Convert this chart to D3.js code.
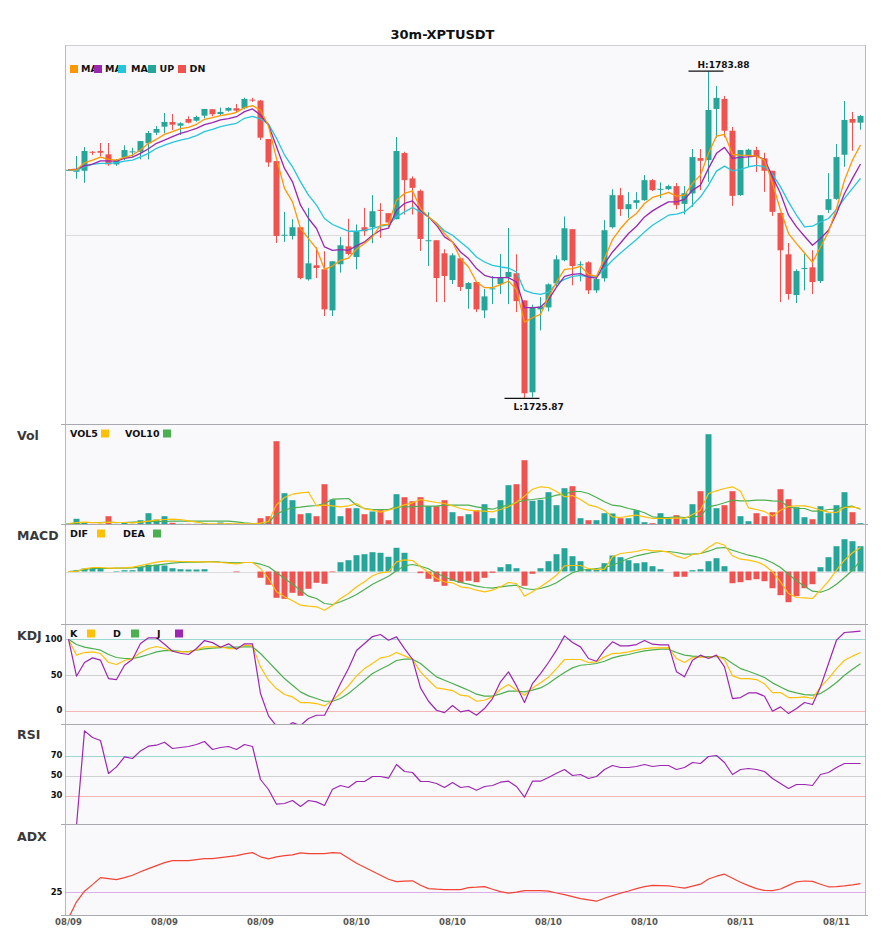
<!DOCTYPE html>
<html><head><meta charset="utf-8">
<script src="https://cdn.jsdelivr.net/npm/d3@7/dist/d3.min.js"></script>
<style>body{margin:0;background:#fff}svg{display:block}text{font-family:"DejaVu Sans",sans-serif}</style>
</head><body><svg id="c" width="885" height="950"></svg>
<script>
// ---------------- data ----------------
const chartTitle = "30m-XPTUSDT";
const open = [1766.30,1766.04,1766.22,1769.59,1769.72,1769.13,1767.35,1768.53,1769.49,1769.59,
1771.09,1772.97,1774.04,1774.87,1774.21,1775.40,1775.10,1775.99,1777.13,1776.29,
1776.88,1777.31,1777.31,1778.83,1778.66,1771.85,1767.94,1754.79,1754.66,1756.21,
1746.97,1749.46,1748.75,1741.46,1749.64,1752.83,1750.93,1756.21,1756.21,1759.29,
1758.70,1757.63,1769.36,1764.87,1762.66,1753.78,1753.90,1751.59,1746.85,1750.70,
1745.25,1746.49,1741.46,1745.25,1746.13,1747.38,1748.04,1743.24,1726.94,1741.64,
1741.99,1746.26,1750.35,1755.86,1749.51,1749.99,1745.01,1747.15,1756.21,1761.90,
1759.41,1760.53,1761.01,1764.56,1762.91,1762.96,1763.50,1760.35,1762.20,1768.47,
1768.12,1777.18,1778.96,1773.32,1761.90,1768.88,1769.89,1768.42,1766.22,1758.75,
1751.41,1744.18,1748.87,1749.10,1746.67,1759.29,1761.24,1769.06,1775.40,1774.75];
const high = [1766.52,1768.83,1770.43,1769.72,1771.14,1771.14,1768.30,1770.73,1770.30,1771.49,
1773.27,1774.16,1776.47,1776.29,1774.82,1775.88,1775.99,1777.18,1777.13,1777.41,
1777.48,1778.07,1779.19,1779.14,1778.78,1771.85,1767.94,1758.93,1757.63,1756.21,
1759.64,1752.66,1751.95,1750.17,1754.49,1757.69,1756.69,1759.64,1761.90,1760.48,
1758.70,1772.20,1769.59,1765.22,1762.91,1758.88,1753.90,1752.30,1751.59,1750.70,
1746.49,1746.49,1745.25,1747.56,1751.47,1756.09,1751.41,1743.24,1742.47,1743.82,
1746.26,1751.23,1758.11,1755.86,1750.17,1750.17,1747.38,1757.45,1762.96,1763.19,
1762.43,1762.43,1765.45,1764.74,1764.15,1763.73,1764.03,1763.50,1770.07,1770.07,
1783.88,1781.27,1779.49,1773.98,1769.89,1770.13,1770.48,1769.41,1766.22,1758.75,
1753.42,1748.75,1751.54,1752.12,1758.34,1765.81,1770.96,1778.60,1776.65,1776.11];
const low = [1766.22,1764.79,1764.08,1769.01,1768.78,1767.10,1767.10,1768.12,1768.70,1768.24,
1768.24,1772.56,1772.86,1773.45,1772.56,1774.64,1774.92,1775.53,1775.88,1776.06,
1776.70,1776.59,1777.13,1778.42,1771.67,1766.93,1753.42,1753.60,1754.02,1746.97,
1746.74,1747.20,1740.45,1740.45,1748.16,1751.23,1748.75,1754.66,1753.37,1754.31,
1756.26,1757.63,1758.47,1758.47,1752.00,1749.33,1742.94,1742.94,1746.13,1744.89,
1741.76,1741.16,1740.09,1742.58,1744.36,1742.58,1741.16,1725.87,1726.05,1737.91,
1741.28,1745.55,1750.17,1745.90,1746.61,1744.36,1744.53,1746.56,1755.98,1758.22,
1757.86,1759.46,1760.88,1762.61,1761.36,1762.79,1759.41,1758.47,1759.82,1762.79,
1764.26,1772.03,1772.15,1760.00,1761.77,1766.93,1765.98,1762.48,1758.22,1742.94,
1743.36,1742.76,1745.01,1744.36,1746.31,1758.75,1761.06,1766.93,1769.77,1773.50];
const close = [1766.39,1766.39,1769.72,1769.49,1769.41,1767.35,1768.12,1769.89,1769.66,1771.49,
1772.92,1773.63,1774.87,1774.39,1774.64,1774.75,1775.76,1777.18,1776.24,1776.65,
1777.36,1776.88,1778.96,1778.73,1772.08,1767.71,1754.66,1754.88,1756.21,1747.20,
1749.81,1748.98,1741.64,1750.17,1753.01,1751.47,1755.50,1755.50,1759.05,1759.11,
1757.05,1769.72,1764.56,1763.19,1754.13,1753.90,1747.20,1747.56,1751.23,1745.60,
1746.31,1741.64,1743.95,1745.37,1747.20,1748.27,1743.11,1726.76,1741.94,1742.17,
1746.08,1750.52,1756.03,1749.33,1749.64,1745.01,1747.02,1755.68,1761.90,1759.41,
1760.30,1761.01,1764.56,1762.79,1763.02,1763.50,1760.12,1762.25,1768.65,1767.99,
1777.00,1779.14,1773.32,1761.77,1769.89,1769.95,1768.70,1766.22,1758.93,1752.12,
1744.36,1748.44,1748.98,1746.49,1758.34,1761.19,1768.65,1775.23,1774.75,1775.94];
const ma5 = [1766.39,1766.39,1767.64,1768.12,1768.65,1768.24,1768.12,1768.60,1769.01,1769.89,
1771.09,1771.80,1772.68,1773.15,1773.68,1773.93,1774.46,1775.35,1775.63,1775.99,
1776.24,1776.59,1777.41,1777.77,1777.00,1774.16,1768.42,1763.09,1760.71,1755.98,
1754.20,1752.43,1748.75,1749.33,1750.35,1750.75,1752.30,1753.31,1754.49,1756.57,
1756.74,1761.01,1762.20,1762.66,1759.53,1758.04,1756.87,1755.09,1753.60,1750.65,
1749.16,1746.49,1745.49,1745.49,1746.03,1746.67,1745.14,1739.38,1740.16,1740.75,
1743.82,1746.49,1748.75,1748.87,1749.28,1747.86,1747.50,1750.65,1754.02,1755.98,
1757.58,1758.65,1760.42,1761.49,1761.90,1762.38,1761.72,1761.90,1763.98,1765.45,
1769.31,1772.38,1772.68,1769.13,1769.01,1768.95,1768.83,1768.12,1763.98,1759.23,
1755.09,1753.31,1751.64,1749.99,1752.71,1755.38,1759.53,1764.56,1768.12,1770.78];
const ma10 = [1766.39,1766.52,1767.10,1767.41,1767.99,1767.99,1767.94,1768.42,1768.65,1769.31,
1770.13,1771.09,1771.67,1772.26,1772.86,1773.27,1773.75,1774.39,1774.75,1775.23,
1775.46,1775.81,1776.70,1777.18,1776.11,1774.34,1770.48,1766.64,1764.26,1760.12,
1757.76,1755.98,1752.71,1752.12,1752.25,1752.12,1752.89,1753.60,1754.79,1755.68,
1756.03,1759.23,1760.42,1760.88,1759.23,1758.04,1756.57,1754.49,1753.60,1751.82,
1750.65,1748.87,1747.68,1747.27,1747.27,1747.27,1746.49,1741.94,1741.94,1742.05,
1743.36,1745.60,1747.50,1747.86,1747.98,1747.38,1747.20,1749.76,1751.82,1753.42,
1755.09,1756.39,1758.04,1759.11,1759.94,1760.71,1760.71,1761.13,1762.79,1763.67,
1766.64,1769.31,1770.37,1768.42,1768.60,1768.70,1768.83,1768.24,1765.15,1762.20,
1758.34,1756.26,1754.61,1753.01,1754.20,1755.68,1758.65,1762.20,1764.87,1767.41];
const ma20 = [1766.39,1766.22,1766.93,1767.35,1767.53,1767.53,1767.64,1767.94,1768.12,1768.70,
1769.31,1770.20,1770.78,1771.26,1771.67,1771.97,1772.44,1773.15,1773.57,1774.04,
1774.34,1774.64,1775.53,1775.88,1775.40,1774.52,1771.97,1769.01,1766.93,1764.26,
1761.90,1760.12,1757.76,1756.69,1756.09,1755.50,1755.50,1755.68,1755.98,1756.39,
1756.62,1758.04,1758.93,1759.71,1758.93,1758.04,1756.97,1755.55,1754.79,1753.60,
1752.43,1750.93,1750.04,1749.46,1749.16,1748.98,1748.27,1745.01,1744.53,1744.30,
1744.71,1746.21,1746.97,1747.50,1747.68,1747.38,1747.38,1748.87,1750.35,1751.64,
1752.83,1754.02,1755.38,1756.57,1757.45,1758.34,1758.52,1758.93,1760.12,1761.60,
1763.67,1766.16,1767.05,1766.22,1766.46,1766.93,1767.18,1766.93,1765.63,1763.37,
1760.71,1758.34,1756.26,1756.39,1757.15,1757.76,1759.36,1761.31,1763.09,1764.87];
const volume = [10,57,23,7,7,83,7,23,7,43,
113,50,83,17,7,7,7,13,3,20,
10,7,7,3,63,83,833,313,243,103,
113,83,403,250,83,163,163,103,130,143,
43,303,273,233,273,183,183,243,123,83,
103,143,203,63,243,393,403,643,237,247,
323,193,363,383,63,43,43,113,110,63,
63,143,23,13,113,57,93,53,203,333,
903,163,193,333,83,33,113,83,123,353,
253,173,73,53,183,113,193,323,123,13];
const vol5 = [10,20,23,20,17,23,20,20,17,23,
33,43,50,53,50,37,23,10,7,7,
7,7,7,7,13,30,198,270,303,317,
323,187,193,187,177,187,210,157,143,123,
143,167,197,217,250,233,220,210,187,160,
143,137,133,127,150,177,223,283,353,377,
370,330,277,290,250,197,177,140,77,70,
83,93,77,60,60,60,67,60,100,143,
310,337,360,377,333,167,150,130,83,143,
180,187,187,170,143,123,120,170,177,160];
const vol10 = [10,10,20,20,20,23,20,20,23,27,
30,30,30,33,33,33,33,33,33,33,
33,27,17,10,10,20,104,143,167,173,
183,190,210,253,257,260,193,160,150,150,
150,177,177,177,183,183,183,193,193,193,
193,177,163,153,177,193,217,243,250,260,
270,293,303,330,330,310,270,227,193,183,
160,143,117,77,70,70,77,70,77,83,
177,193,217,243,237,237,243,243,237,233,
177,160,160,133,133,150,153,177,183,153];
const macdHist = [0,0.1,0.3,0.3,0.3,0,0.05,0.13,0.13,0.47,
0.67,0.67,0.6,0.33,0.23,0.2,0.2,0.23,0,0,
0,-0.07,0,0,-0.63,-1.33,-2.63,-2.73,-2.13,-2.43,
-1.73,-1.13,-1.23,-0.07,0.93,1.13,1.63,1.73,1.93,1.87,
1.47,2.37,1.87,0,-0.17,-0.73,-1.03,-1.43,-0.93,-1.13,
-0.93,-1.07,-0.63,-0.13,0.43,0.73,0.33,-1.43,-0.23,0.33,
1.03,1.73,2.33,1.53,1.03,0.23,0.23,0.83,1.6,1.43,
1.13,0.83,0.93,0.53,0.23,0,-0.53,-0.53,0.13,0.23,
1.03,1.33,0.53,-1.17,-1.07,-0.87,-0.77,-0.97,-1.67,-2.37,
-3.07,-2.47,-1.67,-1.27,0.43,1.43,2.53,3.23,3.03,2.53];
const dif = [0,0,0.27,0.4,0.4,0.33,0.33,0.37,0.43,0.6,
0.77,0.93,1.03,1.03,1.0,1.0,0.97,0.97,0.97,0.9,
0.83,0.77,0.9,0.9,0.3,-0.7,-2.03,-2.53,-2.93,-3.37,
-3.47,-3.53,-3.87,-3.37,-2.7,-2.2,-1.53,-1.03,-0.43,-0.13,
-0.03,0.97,1.17,1.1,0.47,-0.1,-0.7,-1.03,-1.13,-1.53,
-1.63,-1.87,-2.03,-1.87,-1.53,-1.1,-1.2,-2.47,-2.03,-1.53,
-0.97,-0.37,0.57,0.6,0.6,0.3,0.2,0.23,1.47,1.8,
1.9,2.0,2.2,2.07,2.07,1.93,1.53,1.3,1.7,1.8,
2.4,2.9,2.63,1.57,1.23,1.13,0.97,0.63,-0.03,-1.03,
-2.2,-2.6,-2.63,-2.7,-1.87,-0.97,0.13,1.13,1.87,2.4];
const dea = [0,0.07,0.2,0.3,0.3,0.3,0.33,0.33,0.37,0.43,
0.53,0.63,0.73,0.83,0.9,0.93,0.93,0.97,1.0,0.93,
0.9,0.87,0.9,0.9,0.73,0.47,-0.1,-0.7,-1.27,-1.87,
-2.47,-2.7,-3.2,-3.3,-3.03,-2.7,-2.3,-1.8,-1.27,-0.87,
-0.47,0.07,0.57,0.7,0.53,0.27,-0.2,-0.53,-0.87,-1.1,
-1.27,-1.47,-1.6,-1.67,-1.53,-1.43,-1.37,-1.7,-1.8,-1.7,
-1.47,-1.13,-0.6,-0.13,0.13,0.2,0.3,0.4,0.63,0.97,
1.3,1.57,1.73,1.9,2.0,2.0,1.9,1.73,1.73,1.8,
2.03,2.33,2.4,2.13,1.87,1.63,1.47,1.23,0.87,0.4,
-0.27,-0.93,-1.47,-1.97,-2.07,-1.8,-1.27,-0.6,0.13,1.07];
const kLine = [100,77.6,81.3,82.3,79.9,67.3,64.5,70.1,72.9,81.3,
86.9,89.7,86.9,83.1,82.2,82.2,85.0,89.2,89.2,89.2,
86.9,86.9,91.6,90.6,61.2,42.5,30.8,22.4,19.1,11.2,
11.2,9.8,6.5,14.4,23.8,34.5,48.6,58.8,65.9,73.8,
75.7,81.3,76.6,71.9,54.2,42.5,31.7,29.9,28.0,21.5,
20.1,13.0,14.4,19.1,29.9,36.4,28.5,21.5,31.7,38.8,
46.7,58.8,71.5,71.5,71.5,67.3,68.2,75.2,79.9,80.4,
82.2,84.6,86.9,87.8,87.8,88.3,72.9,67.3,74.3,75.2,
74.3,76.6,71.5,48.6,44.8,44.8,43.4,37.4,25.2,25.2,
18.2,18.2,19.1,16.8,33.1,44.8,58.8,70.5,76.2,81.3];
const dLine = [100,92.5,88.8,86.9,84.6,78.5,74.3,72.9,72.9,75.2,
78.5,82.2,84.1,84.1,83.1,82.7,84.6,86.4,87.4,88.3,
88.8,88.8,89.2,89.2,79.9,68.2,56.5,44.8,35.5,26.1,
20.5,16.8,13.0,13.0,16.8,23.8,33.1,42.5,51.8,57.9,
63.5,70.1,72.0,72.0,65.9,56.5,47.2,42.5,37.8,33.1,
28.5,22.9,20.1,20.1,23.3,27.1,27.1,26.1,28.5,31.7,
37.8,45.8,53.3,59.8,63.5,64.5,65.9,69.1,73.8,76.6,
78.5,81.3,83.6,85.0,86.0,86.0,81.3,77.6,76.2,75.7,
75.7,75.7,73.8,65.9,58.8,55.1,50.9,46.2,38.8,33.1,
27.5,24.7,22.4,21.5,23.8,30.8,39.2,49.5,57.9,65.4];
const jLine = [100,48.1,67.3,73.8,70.6,44.8,43.4,63.5,72.0,93.9,
101.9,101.9,93.0,83.1,80.3,78.5,86.9,98.1,95.2,88.8,
93.5,86.0,93.5,93.5,23.8,-7.5,-22,-24,-17,-21,
-11.2,-6.6,-6.6,14.4,37.8,58.9,84.1,93.9,103.7,106.6,
98.6,103.3,86.9,71.9,31.7,13.0,0.4,-2.9,7.0,-1.9,
0.4,-6.6,2.8,16.8,40.2,54.2,34.5,11.2,37.8,51.8,
67.3,84.6,104.7,95.3,89.2,72.9,69.1,84.6,96.3,90.6,
90.6,92.5,98.1,93.0,92.0,92.0,54.2,47.2,70.5,77.6,
72.9,77.6,61.2,16.8,18.2,24.7,24.7,20.1,-1.0,5.1,
-4.3,2.8,11.2,8.4,33.1,65.9,98.6,109.4,110.3,111.2];
const rsi = [null,0,94.6,88,85,52,58.6,68.6,67,74.6,
79.3,80.3,83.3,77,78,79,81,84,76,78,
79,76,81,79,46,36,21.3,22,25,19,
25,23.6,20,36.3,40,38,44,44,49,49,
47.3,61,54,53,44,44,42,38,43,38,
39,35.3,39,40,43.3,44.3,39,28.3,44.3,44.3,
48,52.3,56,50,51,47,49,56,60,58,
58,59,61,59,60,60,56,58,63,62,
69,70,63,51,56,57,56,54,47,42,
37,41,41,40,51,53,58,62,62,62];
const adx = [12,20.2,25.5,28.8,32.3,31.8,31.3,32.3,33.5,35.2,
36.8,38.3,39.8,40.8,40.8,40.8,41.3,41.8,41.8,42.3,
42.8,43.3,44.2,44.8,42.7,41.7,42.7,43.3,43.7,44.7,
44.3,44.3,44.3,44.8,44.5,42,39.5,37.5,35.5,33.5,
31.5,30.3,30.5,30.7,28.5,26.8,26.5,26.3,26.3,26.3,
27.3,27.5,27.8,26.5,25.3,24.5,25,25.8,25.8,25.8,
25.5,24.6,23.8,22.8,21.8,21.2,20.5,22,23.3,24.5,
25.6,26.8,27.8,28.4,28.3,28.2,27.6,27,28,29,
31.6,33,34,32,30,28.3,26.8,25.9,25.8,26.6,
28.4,30.2,30.6,30.4,29,27.7,27.8,28.2,28.7,29.3];
const xTickIndex = [0,12,24,36,48,60,72,84,96];
const xTickLabels = ["08/09","08/09","08/09","08/10","08/10","08/10","08/10","08/11","08/11"];
const kdjTicks = [100,50,0];
const rsiTicks = [70,50,30];
const adxTicks = [25];

// ---------------- drawing ----------------
const UP = "#26a69a", DN = "#ef5350";
const C_MA5 = "#ff9800", C_MA10 = "#9c27b0", C_MA20 = "#26c6da";
const C_Y = "#ffc107", C_G = "#4caf50", C_P = "#9c27b0", C_ADX = "#f44336";
const svg = d3.select("#c");
const L = 64.5, R = 864.5;
const P = {main:[45,424.5], vol:[424.5,524.5], macd:[524.5,624.5], kdj:[624.5,724.5], rsi:[724.5,824.5], adx:[824.5,915.5]};
const n = close.length;
const x = d3.scaleBand().domain(d3.range(n)).range([L, R]).paddingInner(0.25).paddingOuter(0.125);
const cx = i => x(i) + x.bandwidth() / 2;

const lo = d3.min(low), hi = d3.max(high), pad = (hi - lo) * 0.08;
const yMain = d3.scaleLinear().domain([lo - pad, hi + pad]).range([P.main[1], P.main[0]]);
const yVol = d3.scaleLinear().domain([0, d3.max(volume) / 0.903]).range([P.vol[1], P.vol[0]]);
const yMacd = d3.scaleLinear().domain([-5.3, 4.7]).range([P.macd[1], P.macd[0]]);
const yKdj = d3.scaleLinear().domain([-19.6, 120.6]).range([P.kdj[1], P.kdj[0]]);
const yRsi = d3.scaleLinear().domain([1, 101]).range([P.rsi[1], P.rsi[0]]);
const yAdx = d3.scaleLinear().domain([13.35, 58.85]).range([P.adx[1], P.adx[0]]);

// background
svg.append("rect").attr("x", 65).attr("y", 45).attr("width", 800.5).attr("height", 870.5).attr("fill", "#f9f9fb");

// clip paths
const defs = svg.append("defs");
Object.entries(P).forEach(([k, r]) => {
  defs.append("clipPath").attr("id", "clip-" + k).append("rect")
    .attr("x", 65).attr("y", r[0]).attr("width", 800).attr("height", r[1] - r[0]);
});
const g = k => svg.append("g").attr("clip-path", `url(#clip-${k})`);

function hline(grp, y, color) {
  grp.append("line").attr("x1", 65).attr("x2", 865).attr("y1", Math.round(y) + 0.5).attr("y2", Math.round(y) + 0.5)
    .attr("stroke", color).attr("stroke-width", 1);
}
function drawLine(grp, data, yS, color, w) {
  grp.append("path").datum(data)
    .attr("d", d3.line().defined(d => d != null).x((d, i) => cx(i)).y(d => yS(d)))
    .attr("fill", "none").attr("stroke", color).attr("stroke-width", w || 1.2).attr("stroke-linejoin", "round");
}

// ---- main panel ----
const gm = g("main");
hline(gm, yMain((lo - pad + hi + pad) / 2), "#dcdcdc");
const candles = gm.append("g");
d3.range(n).forEach(i => {
  const col = close[i] >= open[i] ? UP : DN;
  candles.append("line").attr("x1", cx(i)).attr("x2", cx(i))
    .attr("y1", yMain(high[i])).attr("y2", yMain(low[i])).attr("stroke", col).attr("stroke-width", 1);
  const yt = yMain(Math.max(open[i], close[i])), yb = yMain(Math.min(open[i], close[i]));
  candles.append("rect").attr("x", x(i)).attr("width", x.bandwidth())
    .attr("y", yt).attr("height", Math.max(1, yb - yt)).attr("fill", col);
});
drawLine(gm, ma20, yMain, C_MA20, 1.3);
drawLine(gm, ma10, yMain, C_MA10, 1.3);
drawLine(gm, ma5, yMain, C_MA5, 1.3);

// high / low markers
const hiI = d3.maxIndex(high), loI = d3.minIndex(low);
[[hiI, high[hiI], "H:", -3.5], [loI, low[loI], "L:", 12]].forEach(([i, v, p, dy]) => {
  const yy = yMain(v);
  svg.append("line").attr("x1", cx(i) - 20).attr("x2", cx(i) + 15).attr("y1", yy).attr("y2", yy)
    .attr("stroke", "#111").attr("stroke-width", 1.3);
  svg.append("text").attr("x", cx(i) - 11).attr("y", yy + dy).attr("font-size", 9).attr("font-weight", "bold")
    .attr("fill", "#111").text(p + v.toFixed(2));
});

// ---- volume ----
const gv = g("vol");
d3.range(n).forEach(i => {
  gv.append("rect").attr("x", x(i)).attr("width", x.bandwidth())
    .attr("y", yVol(volume[i])).attr("height", yVol(0) - yVol(volume[i]))
    .attr("fill", close[i] >= open[i] ? UP : DN);
});
drawLine(gv, vol10, yVol, C_G, 1.2);
drawLine(gv, vol5, yVol, C_Y, 1.2);

// ---- MACD ----
const gc = g("macd");
hline(gc, yMacd(0), "#dcdcdc");
d3.range(n).forEach(i => {
  const v = macdHist[i];
  if (v === 0) return;
  gc.append("rect").attr("x", x(i)).attr("width", x.bandwidth())
    .attr("y", Math.min(yMacd(v), yMacd(0))).attr("height", Math.abs(yMacd(v) - yMacd(0)))
    .attr("fill", v > 0 ? UP : DN);
});
drawLine(gc, dea, yMacd, C_G, 1.2);
drawLine(gc, dif, yMacd, C_Y, 1.2);

// ---- KDJ ----
const gk = g("kdj");
const refCol = v => v >= 70 ? "#9bd8cf" : (v <= 30 ? "#f4b6b4" : "#d0d0d0");
kdjTicks.forEach(t => hline(gk, yKdj(t), refCol(t)));
drawLine(gk, dLine, yKdj, C_G, 1.2);
drawLine(gk, kLine, yKdj, C_Y, 1.2);
drawLine(gk, jLine, yKdj, C_P, 1.2);

// ---- RSI ----
const gr = g("rsi");
rsiTicks.forEach(t => hline(gr, yRsi(t), refCol(t)));
drawLine(gr, rsi, yRsi, C_P, 1.2);

// ---- ADX ----
const ga = g("adx");
adxTicks.forEach(t => hline(ga, yAdx(t), "#dcb0e6"));
drawLine(ga, adx, yAdx, C_ADX, 1.2);

// ---- frames ----
svg.append("line").attr("x1", 65).attr("x2", 865.5).attr("y1", 45.5).attr("y2", 45.5).attr("stroke", "#cfcfd4");
svg.append("line").attr("x1", 65.5).attr("x2", 65.5).attr("y1", 45).attr("y2", 915.5).attr("stroke", "#b8b8bf");
svg.append("line").attr("x1", 865.5).attr("x2", 865.5).attr("y1", 45).attr("y2", 915.5).attr("stroke", "#b8b8bf");
[P.vol[0], P.macd[0], P.kdj[0], P.rsi[0], P.adx[0], P.adx[1]].forEach(y => {
  svg.append("line").attr("x1", 61).attr("x2", 868).attr("y1", y).attr("y2", y).attr("stroke", "#a9a9b0").attr("stroke-width", 1);
});

// ---- y tick labels ----
function yLabels(ticks, yS) {
  ticks.forEach(t => svg.append("text").attr("x", 62.5).attr("y", yS(t)).attr("dy", "0.35em")
    .attr("text-anchor", "end").attr("font-size", 8.5).attr("font-weight", "bold").attr("fill", "#111").text(t));
}
yLabels(kdjTicks, yKdj); yLabels(rsiTicks, yRsi); yLabels(adxTicks, yAdx);

// ---- x tick labels ----
xTickIndex.forEach((i, k) => {
  svg.append("text").attr("x", cx(i)).attr("y", 925).attr("text-anchor", "middle")
    .attr("font-size", 8.5).attr("font-weight", "bold").attr("fill", "#555").text(xTickLabels[k]);
});

// ---- title & panel labels ----
svg.append("text").attr("x", 442.5).attr("y", 39).attr("text-anchor", "middle")
  .attr("font-size", 13).attr("font-weight", "bold").attr("fill", "#111").text(chartTitle);
[["Vol", 439.5], ["MACD", 539.5], ["KDJ", 639.5], ["RSI", 738.5], ["ADX", 840.5]].forEach(([t, y]) => {
  svg.append("text").attr("x", 17).attr("y", y).attr("font-size", 12.5).attr("font-weight", "bold")
    .attr("fill", "#3a3a3a").text(t);
});

// ---- legends ----
function sq(xx, yc, c) { svg.append("rect").attr("x", xx).attr("y", yc - 4).attr("width", 8).attr("height", 8).attr("fill", c); }
function lt(xx, yc, t) { svg.append("text").attr("x", xx).attr("y", yc).attr("dy", "0.36em").attr("font-size", 9.5)
  .attr("font-weight", "bold").attr("fill", "#111").text(t); }
const mainLegend = [[C_MA5, "MA", 70, 81], [C_MA10, "MA", 94, 105], [C_MA20, "MA", 118, 131], [UP, "UP", 148, 159.5], [DN, "DN", 178, 189.5]];
mainLegend.forEach(([c, t, sx, tx]) => { sq(sx, 69, c); lt(tx, 69, t); });
[["VOL5", 70, C_Y, 101], ["VOL10", 125, C_G, 163]].forEach(([t, tx, c, sx]) => { lt(tx, 433.5, t); sq(sx, 433.5, c); });
[["DIF", 70, C_Y, 97], ["DEA", 123, C_G, 153]].forEach(([t, tx, c, sx]) => { lt(tx, 533.5, t); sq(sx, 533.5, c); });
[["K", 70, C_Y, 87], ["D", 113, C_G, 131], ["J", 157, C_P, 175]].forEach(([t, tx, c, sx]) => { lt(tx, 633.5, t); sq(sx, 633.5, c); });
</script></body></html>
